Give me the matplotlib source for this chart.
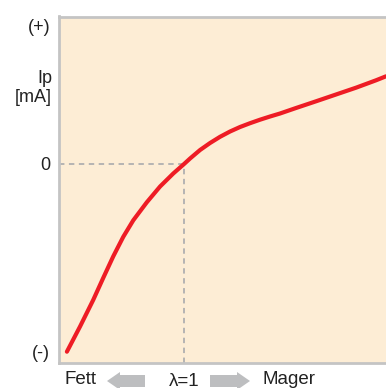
import matplotlib.pyplot as plt
from matplotlib.patches import FancyArrow

plt.rcParams['font.family'] = ['Liberation Sans', 'DejaVu Sans']

# --- curve (lambda vs pump current, arbitrary units) ---
lam = [0.707, 0.740, 0.773, 0.798, 0.823, 0.848, 0.873, 0.907, 0.940, 0.973,
       1.000, 1.015, 1.040, 1.065, 1.090, 1.115, 1.140, 1.165, 1.190, 1.215,
       1.240, 1.280, 1.330, 1.380, 1.430, 1.480, 1.505]
ip = [-1.877, -1.624, -1.358, -1.138, -0.923, -0.728, -0.563, -0.382, -0.225, -0.095,
      0.000, 0.055, 0.140, 0.210, 0.272, 0.325, 0.370, 0.408, 0.443, 0.475,
      0.505, 0.560, 0.627, 0.695, 0.763, 0.837, 0.877]

ytick_pos = [1.39, 0.0, -1.88]
ytick_lab = ['(+)', '0', '(-)']

bg = '#FDEDD5'
red = '#EE1C25'
grey = '#BDBEC0'
txt = '#222222'

fig = plt.figure(figsize=(3.86, 3.88), dpi=100)
ax = fig.add_axes([58.5 / 386, 25 / 388, 1 - 58.5 / 386, 346.5 / 388])
ax.set_facecolor(bg)
ax.set_xlim(0.686, 1.505)
ax.set_ylim(-1.99, 1.475)

# --- reference lines at lambda=1 / Ip=0 ---
ax.plot([0.686, 1.0], [0, 0], color='#B0B0B0', lw=1.3, ls=(0, (3, 2.5)))
ax.plot([1.0, 1.0], [-1.99, 0], color='#B0B0B0', lw=1.3, ls=(0, (3, 2.5)))

ax.plot(lam, ip, color=red, lw=3, solid_capstyle='round', solid_joinstyle='round')

for s in ['top', 'left', 'bottom']:
    ax.spines[s].set_color('#C4C4C4')
    ax.spines[s].set_linewidth(2)
ax.spines['right'].set_visible(False)

ax.set_xticks([])
ax.set_yticks(ytick_pos)
ax.set_yticklabels(ytick_lab, fontsize=13, color=txt)
ax.tick_params(axis='y', length=0, pad=6)
ax.text(-0.02, (363 - 88) / 346.5, 'Ip\n[mA]', transform=ax.transAxes,
        ha='right', va='center', fontsize=13, color=txt, linespacing=1.15)

# --- labels and arrows under the axis ---
yb = 1 - 380 / 388
fig.text(81 / 386, yb, 'Fett', ha='center', va='center', fontsize=13.5, color=txt)
fig.text(184 / 386, yb - 0.004, '\u03bb=1', ha='center', va='center', fontsize=13.5, color=txt)
fig.text(289 / 386, yb, 'Mager', ha='center', va='center', fontsize=13.5, color=txt)

fig.patches.append(FancyArrow(145 / 386, 1 - 381 / 388, -38 / 386, 0, width=12 / 388,
                              head_width=18 / 388, head_length=13 / 386, length_includes_head=True,
                              color=grey, lw=0, transform=fig.transFigure, figure=fig))
fig.patches.append(FancyArrow(210 / 386, 1 - 381 / 388, 40 / 386, 0, width=12 / 388,
                              head_width=18 / 388, head_length=13 / 386, length_includes_head=True,
                              color=grey, lw=0, transform=fig.transFigure, figure=fig))

plt.savefig('out.png', dpi=100)
